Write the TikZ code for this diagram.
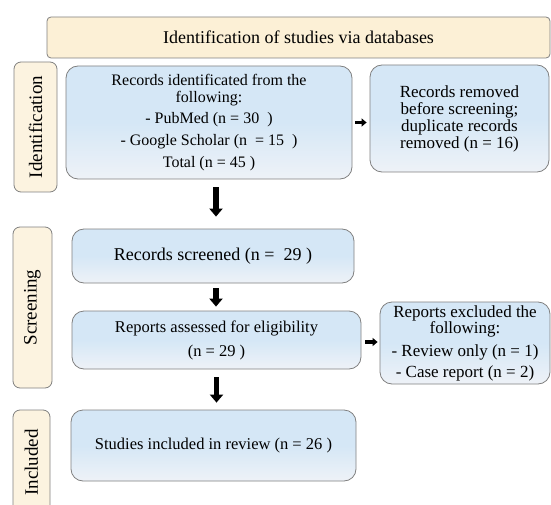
\documentclass[tikz,border=0pt]{standalone}
\usepackage{fontspec}
\setmainfont{Liberation Serif}
\usetikzlibrary{arrows.meta}

\definecolor{bannerfill}{RGB}{252,240,214}
\definecolor{labelfill}{RGB}{252,243,224}
\definecolor{edgegray}{RGB}{128,128,128}
\definecolor{boxtop}{RGB}{213,231,246}
\definecolor{boxbot}{RGB}{238,242,247}

\begin{document}
\begin{tikzpicture}[x=1pt, y=-1pt]
    \tikzset{box/.style={draw=edgegray, line width=0.8pt, rounded corners=12pt, top color=boxtop, bottom color=boxbot, middle color=boxtop, align=center, inner sep=0pt}} %% blue boxes
    \tikzset{phase/.style={draw=edgegray, line width=0.8pt, rounded corners=7pt, fill=labelfill, rotate=90, inner sep=0pt, font=\fontsize{19}{20}\selectfont}}
    \tikzset{bigarrow/.style={line width=5.5pt, -{Triangle[length=8pt,width=13pt]}}}
    \tikzset{smallarrow/.style={line width=3.5pt, -{Triangle[length=5pt,width=8pt]}}}

    \useasboundingbox (0,0) rectangle (551,505);
    \clip (0,0) rectangle (551,505);

    \node[draw=edgegray, line width=0.8pt, rounded corners=4pt, fill=bannerfill, minimum width=503pt, minimum height=41pt, font=\fontsize{18}{20}\selectfont] (banner) at (298.5,37.5) {Identification of studies via databases};

    % phase labels on the left
    \node[phase, minimum width=130pt, minimum height=43pt] (idlabel) at (35.5,127) {Identification};
    \node[phase, minimum width=161pt, minimum height=39pt] (screenlabel) at (32.5,307.5) {Screening};
    \node[phase, minimum width=105pt, minimum height=37pt] (inclabel) at (31.5,462.5) {Included};

    \node[box, minimum width=286pt, minimum height=113pt, font=\fontsize{16}{17}\selectfont] (records) at (209,122.5)
        {Records identificated from the\\ following:\\[4pt] - PubMed (n = 30\ \ )\\[5pt] - Google Scholar (n\ \ = 15\ \ )\\[5pt] Total (n = 45 )};
    \node[box, minimum width=179pt, minimum height=107pt, font=\fontsize{17}{17}\selectfont] (removed) at (459.5,118.5)
        {Records removed\\ before screening;\\ duplicate records\\ removed (n = 16)};
    \node[box, minimum width=282pt, minimum height=54pt, font=\fontsize{18}{20}\selectfont] (screened) at (213,256) {Records screened (n =\ \ 29 )};
    \node[box, minimum width=289pt, minimum height=58pt, font=\fontsize{16.5}{17}\selectfont] (assessed) at (216.5,340)
        {Reports assessed for eligibility\\[7pt] (n = 29 )};
    \node[box, minimum width=170pt, minimum height=82pt, font=\fontsize{17}{16}\selectfont] (excluded) at (465,343)
        {Reports excluded the\\ following:\\[7pt] - Review only (n = 1)\\[5pt] - Case report (n = 2)};
    \node[box, minimum width=285pt, minimum height=71pt, font=\fontsize{16.5}{17}\selectfont] (studies) at (213.5,445.5) {Studies included in review (n = 26 )};

    % arrows
    \draw[bigarrow, shorten <=8pt, shorten >=12pt] ([xshift=7pt]records.south) -- ([xshift=7pt]records.south |- screened.north);
    \draw[bigarrow, shorten <=5pt, shorten >=4pt] ([xshift=3pt]screened.south) -- ([xshift=3pt]screened.south |- assessed.north);
    \draw[bigarrow, shorten <=8pt, shorten >=7pt] (assessed.south) -- (assessed.south |- studies.north);
    \draw[smallarrow, shorten <=3pt, shorten >=3pt] (records.east) -- (records.east -| removed.west);
    \draw[smallarrow, shorten <=4pt, shorten >=2pt] ([yshift=-2pt]assessed.east) -- ([yshift=-2pt]assessed.east -| excluded.west);
\end{tikzpicture}
\end{document}
